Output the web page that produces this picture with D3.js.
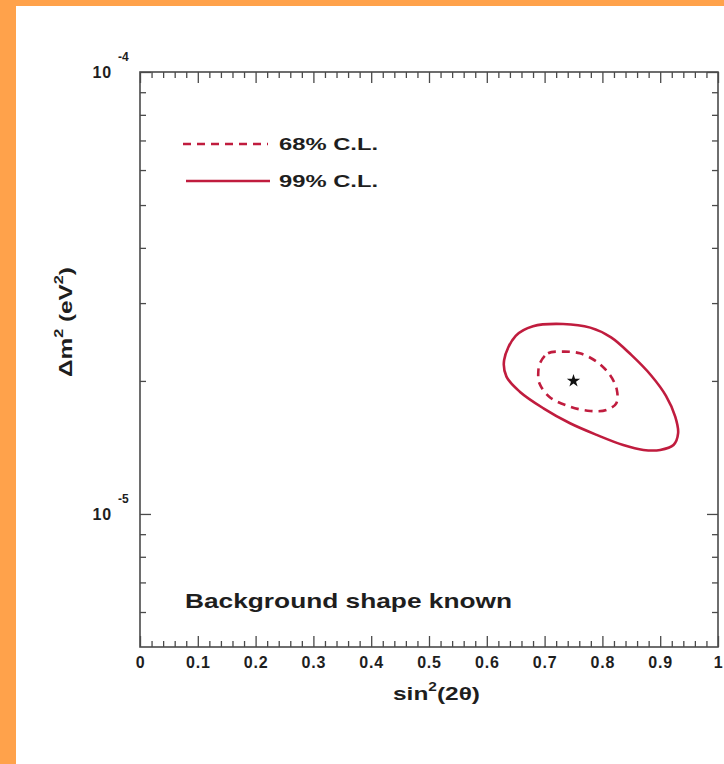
<!DOCTYPE html>
<html>
<head>
<meta charset="utf-8">
<script src="https://cdn.jsdelivr.net/npm/d3@7"></script>
<style>
  html, body { margin: 0; padding: 0; background: #ffffff; }
  svg { display: block; }
  text { font-family: "Liberation Sans", Arial, Helvetica, sans-serif; font-weight: bold; fill: #1e1e1e; }
</style>
</head>
<body>
<svg id="chart" width="724" height="764"></svg>
<script>
// ---- data -------------------------------------------------------------
const xDomain = [0, 1];
const yDomain = [5e-6, 1e-4];

const xMajorTicks = [0, 0.1, 0.2, 0.3, 0.4, 0.5, 0.6, 0.7, 0.8, 0.9, 1];
const xTickLabels = ["0", "0.1", "0.2", "0.3", "0.4", "0.5", "0.6", "0.7", "0.8", "0.9", "1"];
const xMinorTicks = d3.range(0, 51).map(i => i / 50).filter(v => Math.round(v * 50) % 5 !== 0);

const yMajorTicks = [1e-5, 1e-4];
const yMajorExponents = ["-5", "-4"];
const yMinorTicks = [6e-6, 7e-6, 8e-6, 9e-6, 2e-5, 3e-5, 4e-5, 5e-5, 6e-5, 7e-5, 8e-5, 9e-5];

// 68% C.L. contour (sin^2 2θ, Δm^2 in eV^2)
const contour68x = [0.692, 0.706, 0.732, 0.761, 0.790, 0.813, 0.825, 0.824, 0.807, 0.779, 0.744, 0.709, 0.691, 0.689];
const contour68y = [2.193e-5, 2.310e-5, 2.330e-5, 2.310e-5, 2.211e-5, 2.063e-5, 1.908e-5, 1.780e-5, 1.719e-5, 1.710e-5, 1.749e-5, 1.837e-5, 1.975e-5, 2.082e-5];

// 99% C.L. contour
const contour99x = [0.630, 0.650, 0.680, 0.732, 0.779, 0.815, 0.850, 0.884, 0.910, 0.926, 0.931, 0.923, 0.900, 0.871, 0.836, 0.790, 0.744, 0.698, 0.657, 0.634];
const contour99y = [2.231e-5, 2.530e-5, 2.660e-5, 2.691e-5, 2.640e-5, 2.510e-5, 2.290e-5, 2.060e-5, 1.850e-5, 1.660e-5, 1.523e-5, 1.432e-5, 1.396e-5, 1.396e-5, 1.432e-5, 1.510e-5, 1.604e-5, 1.734e-5, 1.891e-5, 2.045e-5];

// best-fit point
const bestFit = [0.75, 2.0e-5];

const legendLabels = ["68% C.L.", "99% C.L."];
const noteText = "Background shape known";

// ---- layout -----------------------------------------------------------
const svg = d3.select("#chart");
const W = 724, H = 764;
const plot = { left: 140, right: 718, top: 72, bottom: 647 };
const contourColor = "#c01c3e";
const frameColor = "#4a4a4a";

// page background with orange edge band
svg.append("rect").attr("width", W).attr("height", H).attr("fill", "#ffffff");
svg.append("rect").attr("x", 0).attr("y", 0).attr("width", 16).attr("height", H).attr("fill", "#ffa24b");
svg.append("rect").attr("x", 0).attr("y", 0).attr("width", W).attr("height", 6).attr("fill", "#ffa24b");

const x = d3.scaleLinear().domain(xDomain).range([plot.left, plot.right]);
const y = d3.scaleLog().domain(yDomain).range([plot.bottom, plot.top]);

// ---- axes (inward ticks on all four sides) ---------------------------
function styleAxis(g) {
  g.select(".domain").remove();
  g.selectAll(".tick line").attr("stroke", frameColor).attr("stroke-width", 1.3);
}

const MAJ = 11, MIN = 6;

svg.append("g").attr("transform", `translate(0,${plot.bottom})`)
  .call(d3.axisBottom(x).tickValues(xMajorTicks).tickSize(-MAJ).tickPadding(10)
    .tickFormat((d, i) => xTickLabels[i]))
  .call(styleAxis)
  .call(g => g.selectAll(".tick text").attr("font-size", 16).attr("letter-spacing", "0.8px")
    .attr("font-family", null).attr("fill", "#1e1e1e"));
svg.append("g").attr("transform", `translate(0,${plot.bottom})`)
  .call(d3.axisBottom(x).tickValues(xMinorTicks).tickSize(-MIN).tickFormat(""))
  .call(styleAxis);

svg.append("g").attr("transform", `translate(0,${plot.top})`)
  .call(d3.axisTop(x).tickValues(xMajorTicks).tickSize(-MAJ).tickFormat(""))
  .call(styleAxis);
svg.append("g").attr("transform", `translate(0,${plot.top})`)
  .call(d3.axisTop(x).tickValues(xMinorTicks).tickSize(-MIN).tickFormat(""))
  .call(styleAxis);

svg.append("g").attr("transform", `translate(${plot.left},0)`)
  .call(d3.axisLeft(y).tickValues(yMajorTicks).tickSize(-MAJ).tickFormat(""))
  .call(styleAxis);
svg.append("g").attr("transform", `translate(${plot.left},0)`)
  .call(d3.axisLeft(y).tickValues(yMinorTicks).tickSize(-MIN).tickFormat(""))
  .call(styleAxis);

svg.append("g").attr("transform", `translate(${plot.right},0)`)
  .call(d3.axisRight(y).tickValues(yMajorTicks).tickSize(-MAJ).tickFormat(""))
  .call(styleAxis);
svg.append("g").attr("transform", `translate(${plot.right},0)`)
  .call(d3.axisRight(y).tickValues(yMinorTicks).tickSize(-MIN).tickFormat(""))
  .call(styleAxis);

// decade labels 10^n on the left
const decade = svg.append("g").selectAll("g").data(yMajorTicks).join("g")
  .attr("transform", d => `translate(${plot.left - 28},${y(d)})`);
decade.append("text").attr("text-anchor", "end").attr("dy", "0.36em")
  .attr("font-size", 16).attr("letter-spacing", "0.8px").text("10");
decade.append("text").attr("x", 6).attr("y", -11)
  .attr("font-size", 12).text((d, i) => yMajorExponents[i]);

// frame
svg.append("rect")
  .attr("x", plot.left).attr("y", plot.top)
  .attr("width", plot.right - plot.left).attr("height", plot.bottom - plot.top)
  .attr("fill", "none").attr("stroke", frameColor).attr("stroke-width", 1.6);

// ---- axis titles -----------------------------------------------------
const xt = svg.append("text").attr("x", 393).attr("y", 700)
  .attr("font-size", 19).attr("textLength", 87).attr("lengthAdjust", "spacingAndGlyphs");
xt.append("tspan").text("sin");
xt.append("tspan").attr("font-size", 12).attr("dy", -9).text("2");
xt.append("tspan").attr("dy", 9).text("(2θ)");

const yt = svg.append("text")
  .attr("transform", `translate(72,377) rotate(-90)`)
  .attr("font-size", 18).attr("textLength", 110).attr("lengthAdjust", "spacingAndGlyphs");
yt.append("tspan").text("Δm");
yt.append("tspan").attr("font-size", 12).attr("dy", -9).text("2");
yt.append("tspan").attr("dy", 9).text(" (eV");
yt.append("tspan").attr("font-size", 12).attr("dy", -9).text("2");
yt.append("tspan").attr("dy", 9).text(")");

// ---- contours --------------------------------------------------------
const line = d3.line().x(d => x(d[0])).y(d => y(d[1])).curve(d3.curveCatmullRomClosed.alpha(0.5));
const pts99 = contour99x.map((v, i) => [v, contour99y[i]]);
const pts68 = contour68x.map((v, i) => [v, contour68y[i]]);

svg.append("path").attr("d", line(pts99))
  .attr("fill", "none").attr("stroke", contourColor).attr("stroke-width", 2.6);
svg.append("path").attr("d", line(pts68))
  .attr("fill", "none").attr("stroke", contourColor).attr("stroke-width", 2.6)
  .attr("stroke-dasharray", "8,6");

// best-fit star
svg.append("path")
  .attr("d", d3.symbol(d3.symbolStar, 55)())
  .attr("transform", `translate(${x(bestFit[0])},${y(bestFit[1])})`)
  .attr("fill", "#111");

// ---- legend ----------------------------------------------------------
const legend = svg.append("g");
const legendRows = [
  { label: legendLabels[0], dash: "8,6", y: 144, x1: 183, x2: 268 },
  { label: legendLabels[1], dash: null, y: 181, x1: 186, x2: 270 }
];
legendRows.forEach(r => {
  legend.append("line")
    .attr("x1", r.x1).attr("x2", r.x2).attr("y1", r.y).attr("y2", r.y)
    .attr("stroke", contourColor).attr("stroke-width", 2.6)
    .attr("stroke-dasharray", r.dash);
  legend.append("text").attr("x", 279).attr("y", r.y).attr("dy", "0.36em")
    .attr("font-size", 17).attr("textLength", 99).attr("lengthAdjust", "spacingAndGlyphs")
    .text(r.label);
});

// ---- annotation ------------------------------------------------------
svg.append("text").attr("x", 185).attr("y", 608)
  .attr("font-size", 21).attr("textLength", 327).attr("lengthAdjust", "spacingAndGlyphs")
  .text(noteText);
</script>
</body>
</html>
